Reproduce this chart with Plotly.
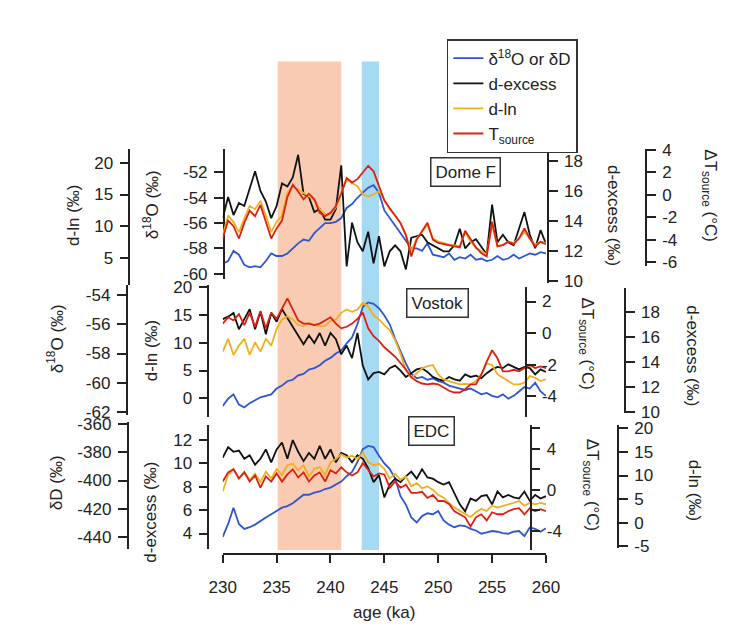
import plotly.graph_objects as go

W, H = 736, 635

age = [230.0, 230.5, 231.0, 231.5, 232.0, 232.5, 233.0, 233.5, 234.0, 234.5,
       235.0, 235.5, 236.0, 236.5, 237.0, 237.5, 238.0, 238.5, 239.0, 239.5,
       240.0, 240.5, 241.0, 241.5, 242.0, 242.5, 243.0, 243.5, 244.0, 244.5,
       245.0, 245.5, 246.0, 246.5, 247.0, 247.5, 248.0, 248.5, 249.0, 249.5,
       250.0, 250.5, 251.0, 251.5, 252.0, 252.5, 253.0, 253.5, 254.0, 254.5,
       255.0, 255.5, 256.0, 256.5, 257.0, 257.5, 258.0, 258.5, 259.0, 259.5,
       260.0]

# ---------------- Dome F ----------------
domef_d18o = [-59.2, -59.0, -58.2, -58.5, -59.3, -59.5, -59.4, -59.5, -59.0, -58.4,
              -58.6, -58.6, -58.4, -58.0, -57.6, -57.3, -57.4, -56.8, -56.4, -56.0,
              -56.0, -55.9, -55.6, -54.8, -54.5, -54.0, -53.6, -53.2, -53.0, -53.6,
              -55.0, -55.6, -56.2, -56.8, -57.5, -58.0, -58.0, -58.2, -57.6, -58.5,
              -58.6, -58.7, -58.4, -58.9, -58.7, -58.8, -58.5, -58.9, -58.8, -59.0,
              -58.9, -58.6, -58.9, -58.8, -58.5, -58.8, -58.6, -58.4, -58.5, -58.3,
              -58.4]
domef_dxs = [14.2, 15.6, 14.4, 15.2, 15.0, 16.2, 17.3, 16.0, 15.3, 14.2,
             15.0, 16.5, 16.3, 16.9, 18.4, 15.8, 15.6, 14.6, 14.8, 14.1,
             14.1, 14.8, 17.7, 11.0, 13.9, 12.6, 12.0, 13.3, 11.2, 13.0,
             11.0, 12.0, 12.4, 12.0, 10.8, 12.9, 13.0, 13.1, 12.6, 12.4,
             12.2, 12.0, 12.0, 12.4, 13.5, 12.2, 12.6, 12.8, 12.3, 11.8,
             15.1, 12.6, 13.1, 12.6, 12.4, 13.5, 14.6, 13.1, 12.2, 13.4,
             12.5]
domef_dln = [8.6, 11.7, 10.7, 9.1, 11.2, 13.2, 12.7, 14.0, 11.7, 9.1,
             10.7, 11.7, 15.3, 16.3, 15.8, 15.3, 14.7, 14.2, 12.7, 11.9,
             11.9, 13.0, 15.3, 17.3, 16.8, 16.3, 15.0, 14.7, 15.0, 15.5,
             14.2, 12.7, 11.7, 10.4, 8.6, 6.1, 8.1, 9.1, 10.2, 8.1,
             7.6, 7.4, 7.1, 7.0, 6.9, 9.1, 7.6, 6.6, 6.1, 5.6,
             10.2, 6.9, 7.1, 7.6, 7.4, 8.1, 9.1, 8.1, 7.1, 7.6,
             7.4]
domef_T = [-3.9, -2.3, -2.8, -3.9, -2.5, -1.4, -1.9, -0.9, -2.4, -3.9,
           -3.0, -2.3, -0.2, 0.9, 0.3, -0.4, 0.1, -0.4, -1.6, -1.9,
           -1.6, -1.0, 0.1, 1.5, 1.1, 1.4, 2.0, 2.6, 2.1, 0.8,
           -0.5, -1.2, -1.8, -2.5, -3.6, -5.5, -4.0, -3.2, -2.5, -4.0,
           -4.3, -4.4, -4.5, -4.6, -4.7, -3.2, -4.0, -4.7, -5.2, -5.5,
           -2.4, -4.6, -4.5, -4.2, -4.4, -3.9, -3.0, -3.9, -4.6, -4.2,
           -4.4]

# ---------------- Vostok ----------------
vostok_d18o = [-61.6, -61.1, -60.8, -61.5, -61.7, -61.4, -61.2, -61.0, -60.9, -60.8,
               -60.4, -60.2, -59.9, -59.8, -59.5, -59.4, -59.1, -59.0, -58.8, -58.5,
               -58.3, -58.0, -57.8, -57.3, -56.9, -56.0, -54.8, -54.5, -54.6, -54.9,
               -55.4, -56.0, -57.0, -57.9, -58.7, -59.4, -59.7, -59.6, -59.8, -59.7,
               -59.9, -60.0, -60.2, -60.3, -60.4, -60.5, -60.4, -60.6, -60.8, -60.7,
               -60.9, -61.0, -60.8, -61.1, -60.9, -60.6, -60.3, -60.4, -60.0, -60.6,
               -60.9]
vostok_dxs = [17.4, 17.6, 17.9, 16.6, 17.4, 18.2, 16.6, 18.0, 16.2, 17.9,
              17.2, 18.2, 17.5, 16.8, 16.0, 15.4, 16.1, 15.5, 16.3, 15.3,
              16.3, 15.8, 14.6, 15.3, 14.3, 16.3, 13.7, 12.6, 13.1, 13.2,
              13.0, 13.5, 13.7, 13.3, 12.8, 13.1, 13.4, 13.5, 13.2, 12.8,
              12.6, 12.5, 12.8, 12.6, 12.5, 13.0, 12.8, 12.9, 12.7, 13.1,
              13.4, 13.6, 13.5, 13.8, 13.6, 13.4, 13.6, 13.5, 13.0, 13.4,
              13.2]
vostok_dln = [8.4, 10.7, 7.8, 9.5, 10.7, 7.8, 10.1, 8.4, 10.7, 9.5,
              12.5, 14.2, 14.8, 14.2, 13.2, 13.0, 13.6, 13.2, 13.0, 13.0,
              14.0, 14.2, 15.4, 16.0, 15.6, 16.0, 17.2, 16.5, 15.0, 14.2,
              13.2, 12.3, 10.5, 8.0, 5.0, 3.7, 4.5, 5.4, 5.8, 6.0,
              4.3, 3.4, 3.1, 2.8, 2.5, 2.6, 2.5, 3.1, 4.3, 6.3,
              6.0, 4.3, 3.7, 3.1, 2.5, 2.5, 2.8, 4.0, 3.7, 3.1,
              3.4]
vostok_T = [0.6, 1.0, 0.8, 1.2, 0.5, 1.3, 0.4, 1.4, 0.3, 1.3,
            0.9, 1.6, 2.2, 1.5, 0.8, 0.6, 0.6, 0.5, 0.6, 0.8,
            1.0, 0.6, 0.3, 0.4, 0.6, 0.9, 1.3, 0.3, -0.2, -0.5,
            -0.9, -1.2, -1.5, -1.9, -2.3, -2.8, -3.05, -3.2, -3.25, -3.2,
            -3.25, -3.45, -3.66, -3.77, -3.77, -3.56, -3.25, -3.25, -2.63, -1.81,
            -1.09, -1.6, -2.43, -2.43, -2.33, -2.43, -2.22, -2.02, -2.22, -2.12,
            -2.22]

# ---------------- EDC ----------------
edc_dD = [-439.6, -430.5, -419.1, -430.5, -434.0, -432.8, -431.0, -428.2, -426.0, -423.7,
          -421.4, -419.1, -418.0, -416.0, -413.0, -410.0, -410.0, -408.5, -407.7, -406.0,
          -405.0, -403.0, -400.8, -397.0, -394.0, -387.1, -378.0, -375.7, -376.5, -382.6,
          -388.0, -392.0, -398.5, -411.0, -417.0, -426.0, -429.5, -425.0, -423.0, -423.7,
          -421.4, -428.0, -431.0, -432.8, -431.5, -432.0, -434.0, -435.1, -437.4, -436.5,
          -435.5, -436.0, -437.0, -437.4, -436.0, -435.5, -439.0, -433.0, -434.0, -436.0,
          -433.5]
edc_dxs = [10.5, 11.4, 11.0, 11.1, 10.4, 10.7, 9.9, 10.4, 11.2, 10.1,
           11.2, 11.8, 10.4, 12.0, 11.0, 10.2, 10.9, 10.4, 11.5, 10.4,
           11.2, 10.1, 10.9, 10.7, 10.1, 10.7, 10.4, 9.6, 8.4, 9.0,
           7.1, 8.2, 8.7, 8.4, 8.9, 9.3, 8.7, 9.5, 8.8, 8.7,
           8.4, 8.2, 8.4, 7.4, 6.5, 5.9, 7.0, 6.8, 7.2, 7.3,
           6.5, 7.6, 7.1, 7.3, 7.1, 7.0, 7.6, 6.8, 7.3, 7.0,
           7.2]
edc_dln = [6.6, 10.1, 11.4, 9.4, 10.8, 9.1, 10.4, 8.7, 10.8, 9.4,
           11.4, 10.1, 12.2, 12.5, 11.1, 12.2, 9.8, 11.4, 11.8, 10.1,
           12.8, 13.5, 14.5, 13.8, 14.2, 13.5, 14.9, 12.8, 12.2, 12.5,
           11.4, 9.4, 10.4, 9.1, 9.8, 7.7, 8.4, 7.3, 7.7, 7.0,
           5.9, 5.3, 4.2, 3.2, 2.5, 1.8, 1.2, 2.2, 2.9, 2.5,
           3.6, 3.2, 3.6, 3.9, 4.2, 4.6, 3.6, 4.2, 3.9, 4.2,
           3.9]
edc_T = [0.8, 1.7, 2.0, 1.1, 1.7, 0.8, 1.4, 0.2, 1.3, 0.8,
         1.6, 0.8, 1.5, 2.0, 1.2, 1.7, 0.8, 1.4, 1.7, 0.8,
         1.9, 1.6, 2.2, 1.7, 1.4, 1.7, 2.6, 1.9, 1.3, 1.6,
         1.5, 0.2, 0.8, 0.2, 0.5, -0.3, -0.3, -0.2, -0.8, -0.5,
         -1.1, -1.1, -1.4, -2.1, -2.4, -2.7, -3.6, -2.7, -2.4, -3.0,
         -2.2, -2.4, -2.4, -2.1, -1.9, -1.8, -2.4, -1.8, -2.1, -1.9,
         -2.1]

x_ticks = [230, 235, 240, 245, 250, 255, 260]
shade_orange = [235.1, 241.0]
shade_blue = [242.9, 244.5]

legend_names = ["δ<sup>18</sup>O or δD", "d-excess", "d-ln", "T<sub>source</sub>"]
colors = ["#2F55D0", "#111111", "#F0B020", "#DD2010"]

FONT = "Liberation Sans, Arial, sans-serif"
TXT = "#222222"
FS = 17


def fmt(v):
    return ("-" if v < 0 else "") + str(abs(int(v)))


def yaxis_cfg(cal, ext, xpos, side, tickvals, minor_vals=None):
    (v1, p1), (v2, p2) = cal
    slope = (v2 - v1) / (p2 - p1)
    top, bot = ext
    rng = [v1 + (bot - p1) * slope, v1 + (top - p1) * slope]
    cfg = dict(domain=[1 - bot / H, 1 - top / H], range=rng, anchor="free",
               position=xpos / W, side=side, showline=True, linecolor=TXT,
               linewidth=1.5, ticks="outside", ticklen=9, tickwidth=1.5,
               tickcolor=TXT, tickvals=tickvals, ticktext=[fmt(v) for v in tickvals],
               showgrid=False, zeroline=False, ticklabelstandoff=3,
               tickfont=dict(size=FS, color=TXT, family=FONT), fixedrange=True)
    if minor_vals:
        cfg["minor"] = dict(tickmode="array", tickvals=minor_vals, ticks="outside",
                            ticklen=9, tickwidth=1.5, tickcolor=TXT, showgrid=False)
    return cfg


axes = {
    # Dome F
    "yaxis": yaxis_cfg(((-52, 169), (-60, 273)), (145, 278), 218, "left", [-60, -58, -56, -54, -52]),
    "yaxis2": yaxis_cfg(((18, 157), (10, 281)), (148, 283), 555, "right", [10, 12, 14, 16, 18]),
    "yaxis3": yaxis_cfg(((20, 159), (5, 257)), (145, 285), 120, "left", [5, 10, 15, 20]),
    "yaxis4": yaxis_cfg(((0, 192), (-6, 261)), (145, 265), 657, "right", [-6, -4, -2, 0, 2, 4]),
    # Vostok
    "yaxis5": yaxis_cfg(((-54, 295), (-62, 415)), (285, 418), 117, "left", [-62, -60, -58, -56, -54]),
    "yaxis6": yaxis_cfg(((18, 312), (10, 415.2)), (288, 416), 635, "right", [10, 12, 14, 16, 18]),
    "yaxis7": yaxis_cfg(((20, 287), (0, 401)), (285, 420), 202, "left", [0, 5, 10, 15, 20]),
    "yaxis8": yaxis_cfg(((0, 334), (-4, 398.8)), (287, 420), 532, "right", [-4, -2, 0, 2]),
    # EDC
    "yaxis9": yaxis_cfg(((-360, 427), (-440, 544)), (425, 556), 118, "left", [-440, -420, -400, -380, -360]),
    "yaxis10": yaxis_cfg(((12, 444), (4, 540)), (428, 556), 202, "left", [4, 6, 8, 10, 12]),
    "yaxis11": yaxis_cfg(((20, 432), (-5, 553)), (428, 555), 628, "right", [-5, 0, 5, 10, 15, 20]),
    "yaxis12": yaxis_cfg(((0, 495), (-4, 537)), (428, 557), 537, "right", [-4, 0, 4], minor_vals=[-6, -2, 2, 6]),
}

panels = [
    [(domef_d18o, "y"), (domef_dxs, "y2"), (domef_dln, "y3"), (domef_T, "y4")],
    [(vostok_d18o, "y5"), (vostok_dxs, "y6"), (vostok_dln, "y7"), (vostok_T, "y8")],
    [(edc_dD, "y9"), (edc_dxs, "y10"), (edc_dln, "y11"), (edc_T, "y12")],
]

fig = go.Figure()
for pi, panel in enumerate(panels):
    for si, (vals, yref) in enumerate(panel):
        fig.add_trace(go.Scatter(
            x=age, y=vals, mode="lines", xaxis="x", yaxis=yref,
            line=dict(color=colors[si], width=1.8),
            name=legend_names[si], showlegend=(pi == 0), hoverinfo="skip"))

fig.update_layout(
    width=W, height=H, margin=dict(l=0, r=0, t=0, b=0),
    paper_bgcolor="white", plot_bgcolor="rgba(0,0,0,0)",
    font=dict(family=FONT, size=FS, color=TXT),
    xaxis=dict(domain=[217 / W, 553 / W], range=[230, 260], anchor="free",
               position=1 - 561 / H, showline=True, linecolor=TXT, linewidth=1.5,
               ticks="outside", ticklen=8, tickwidth=1.5, tickcolor=TXT,
               tickvals=x_ticks, ticktext=[str(v) for v in x_ticks],
               showgrid=False, zeroline=False, ticklabelstandoff=10,
               tickfont=dict(size=FS, color=TXT, family=FONT), fixedrange=True),
    legend=dict(x=450 / W, y=1 - 32 / H, xanchor="left", yanchor="top",
                bordercolor="#333", borderwidth=1.5, bgcolor="white",
                font=dict(size=FS, color=TXT, family=FONT), itemwidth=30,
                tracegroupgap=0),
    showlegend=True,
    **axes,
)

for (x0, x1), col in [(shade_orange, "#F9CBB3"), (shade_blue, "#A6D9F2")]:
    fig.add_shape(type="rect", xref="x", yref="paper", x0=x0, x1=x1,
                  y0=1 - 557 / H, y1=1 - 55 / H, fillcolor=col, line=dict(width=0),
                  layer="below")


def ann(text, px, py, angle=0, size=FS, box=False):
    d = dict(text=text, x=px / W, y=1 - py / H, xref="paper", yref="paper",
             xanchor="center", yanchor="middle", showarrow=False, textangle=angle,
             font=dict(size=size, color=TXT, family=FONT))
    if box:
        d.update(bordercolor="#333", borderwidth=1.5, borderpad=4, bgcolor="white")
    fig.add_annotation(**d)


# axis titles
ann("d-ln (‰)", 62, 213, -90)
ann("δ<sup>18</sup>O (‰)", 142, 202, -90)
ann("d-excess (‰)", 623, 213, 90)
ann("ΔT<sub>source</sub> (°C)", 723, 193, 90)

ann("δ<sup>18</sup>O (‰)", 43, 340, -90)
ann("d-ln (‰)", 143, 352, -90)
ann("ΔT<sub>source</sub> (°C)", 595, 345, 90)
ann("d-excess (‰)", 705, 357, 90)

ann("δD (‰)", 45, 488, -90)
ann("d-excess (‰)", 142, 518, -90)
ann("ΔT<sub>source</sub> (°C)", 600, 490, 90)
ann("d-ln (‰)", 707, 495, 90)

ann("age (ka)", 385, 621)

# panel labels
ann("Dome F", 469, 168, box=True)
ann("Vostok", 440, 303, box=True)
ann("EDC", 434, 435, box=True)

fig.write_html("out.html")
